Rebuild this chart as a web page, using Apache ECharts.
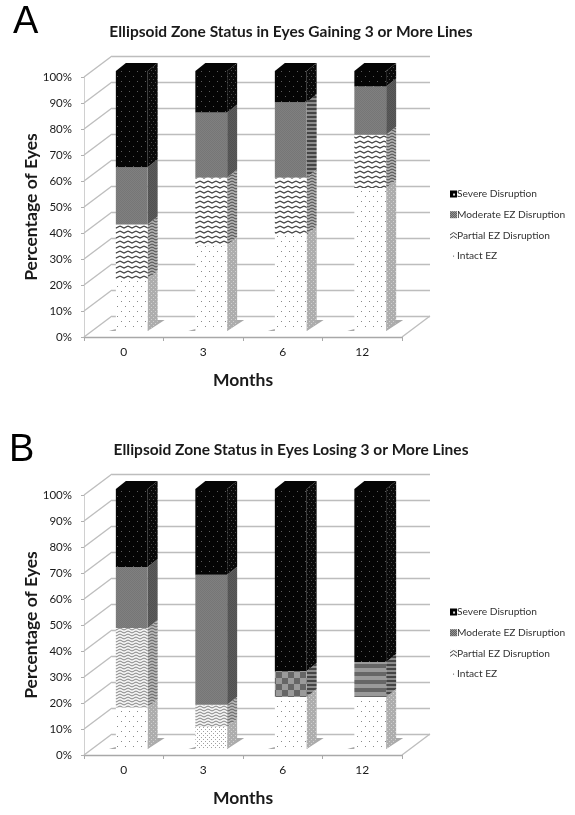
<!DOCTYPE html>
<html>
<head>
<meta charset="utf-8">
<script src="https://cdn.jsdelivr.net/npm/echarts@6/dist/echarts.min.js"></script>
<style>html,body{margin:0;padding:0;background:#fff}#c{width:575px;height:815px}</style>
</head>
<body>
<div id="c"></div>
<script>
const months = ['0', '3', '6', '12'];
const tickValues = [0, 10, 20, 30, 40, 50, 60, 70, 80, 90, 100];
const seriesNames = ['Intact EZ', 'Partial EZ Disruption', 'Moderate EZ Disruption', 'Severe Disruption'];
const legendOrder = ['Severe Disruption', 'Moderate EZ Disruption', 'Partial EZ Disruption', 'Intact EZ'];

const gainIntact = [20, 33, 37, 55];
const gainPartial = [21, 26, 22, 20.5];
const gainModerate = [22, 25, 29, 18.5];
const gainSevere = [37, 16, 12, 6];

const loseIntact = [16, 8.5, 20, 20];
const losePartial = [30.5, 8.5, 0, 0];
const loseModerate = [23.5, 50, 10, 13.5];
const loseSevere = [30, 33, 70, 66.5];

const titleA = 'Ellipsoid Zone Status in Eyes Gaining 3 or More Lines';
const titleB = 'Ellipsoid Zone Status in Eyes Losing 3 or More Lines';

const FONT = 'Lato';
const BAR_SHIFT = [8, -6], BAR_DEPTH = [10, -8], WALL = [28, -21];
const PANEL_TOP = [77, 495], PLOT_H = 260, PLOT_L = 84, PLOT_W = 318;

function tile(w, h, draw) {
  const cv = document.createElement('canvas');
  cv.width = w; cv.height = h;
  draw(cv.getContext('2d'));
  return { image: cv, repeat: 'repeat' };
}
function dots(bg, fg, w, h) {
  return tile(w, h, c => {
    c.fillStyle = bg; c.fillRect(0, 0, w, h);
    c.fillStyle = fg;
    c.fillRect(1, 1, 1, 1);
    c.fillRect(1 + w / 2, 1 + h / 2, 1, 1);
  });
}
function wave(bg, fg, lw, h) {
  return tile(8, h, c => {
    c.fillStyle = bg; c.fillRect(0, 0, 8, h);
    c.strokeStyle = fg; c.lineWidth = lw;
    c.beginPath();
    for (let o = -h; o <= 2 * h; o += h) {
      c.moveTo(0, o + 1); c.lineTo(4, o + 3); c.lineTo(8, o + 1);
    }
    c.stroke();
  });
}
function dither(a, b) {
  return tile(2, 2, c => {
    c.fillStyle = a; c.fillRect(0, 0, 2, 2);
    c.fillStyle = b; c.fillRect(0, 0, 1, 1); c.fillRect(1, 1, 1, 1);
  });
}
const P = {
  intact: dots('#ffffff', '#8a8a8a', 8, 10),
  intactFine: dots('#ffffff', '#a0a0a0', 4, 4),
  intactSide: dots('#adadad', '#d0d0d0', 4, 4),
  wave: wave('#ffffff', '#444444', 1.3, 5),
  waveSide: wave('#b0b0b0', '#4a4a4a', 1, 3),
  waveLight: wave('#f4f4f4', '#666666', 0.8, 3),
  waveLightSide: wave('#b8b8b8', '#555555', 0.9, 3),
  moderate: dither('#808080', '#767676'),
  moderateSide: dither('#5c5c5c', '#505050'),
  checker: tile(12, 12, c => {
    c.fillStyle = '#9a9a9a'; c.fillRect(0, 0, 12, 12);
    c.fillStyle = '#666666'; c.fillRect(0, 0, 6, 6); c.fillRect(6, 6, 6, 6);
  }),
  stripes: tile(8, 8, c => {
    c.fillStyle = '#9a9a9a'; c.fillRect(0, 0, 8, 8);
    c.fillStyle = '#666666'; c.fillRect(0, 0, 8, 4);
  }),
  stripesSide: tile(4, 4, c => {
    c.fillStyle = '#8c8c8c'; c.fillRect(0, 0, 4, 4);
    c.fillStyle = '#444444'; c.fillRect(0, 0, 4, 2);
  }),
  severe: dots('#050505', '#5c5c5c', 8, 10),
  severeSide: dots('#0a0a0a', '#4a4a4a', 4, 6),
  legendIntact: tile(7, 7, c => { c.fillStyle = '#fff'; c.fillRect(0, 0, 7, 7); c.fillStyle = '#555'; c.fillRect(3, 3, 1, 1); }),
  legendPartial: tile(7, 7, c => {
    c.fillStyle = '#fff'; c.fillRect(0, 0, 7, 7);
    c.strokeStyle = '#333'; c.lineWidth = 1; c.beginPath();
    c.moveTo(0, 3); c.lineTo(3.5, 0.5); c.lineTo(7, 3); c.moveTo(0, 6.5); c.lineTo(3.5, 4); c.lineTo(7, 6.5); c.stroke();
  }),
  legendModerate: dither('#b0b0b0', '#444444'),
  legendSevere: tile(7, 7, c => { c.fillStyle = '#000'; c.fillRect(0, 0, 7, 7); c.fillStyle = '#ddd'; c.fillRect(3, 3, 2, 2); })
};
const look = {
  'Intact EZ': { front: P.intact, side: P.intactSide, legend: P.legendIntact },
  'Partial EZ Disruption': { front: P.wave, side: P.waveSide, legend: P.legendPartial },
  'Moderate EZ Disruption': { front: P.moderate, side: P.moderateSide, legend: P.legendModerate },
  'Severe Disruption': { front: P.severe, side: P.severeSide, legend: P.legendSevere }
};
const overrides = {
  '0|Moderate EZ Disruption|2': { side: P.stripesSide },
  '1|Partial EZ Disruption|0': { front: P.waveLight, side: P.waveLightSide },
  '1|Partial EZ Disruption|1': { front: P.waveLight, side: P.waveLightSide },
  '1|Intact EZ|1': { front: P.intactFine },
  '1|Moderate EZ Disruption|2': { front: P.checker, side: P.stripesSide },
  '1|Moderate EZ Disruption|3': { front: P.stripes, side: P.stripesSide }
};

function poly(points, fill, z2) {
  return { type: 'polygon', z2: z2 || 0, shape: { points }, style: { fill, stroke: null } };
}
function barRender(panel, name, isTopSeries) {
  return (params, api) => {
    const cat = api.value(0), lo = api.value(1), hi = api.value(2);
    if (hi <= lo) return null;
    const key = panel + '|' + name + '|' + cat;
    const st = Object.assign({}, look[name], overrides[key] || {});
    const band = api.size([1, 0])[0], w = band * 0.4;
    const c0 = api.coord([cat, lo]), c1 = api.coord([cat, hi]);
    const x0 = c0[0] + BAR_SHIFT[0] - w / 2, x1 = x0 + w;
    const y0 = c0[1] + BAR_SHIFT[1], y1 = c1[1] + BAR_SHIFT[1];
    const dx = BAR_DEPTH[0], dy = BAR_DEPTH[1];
    const kids = [];
    if (lo === 0) {
      kids.push(poly([[x0 - 7, y0], [x1, y0], [x1 + dx + 7, y0 + dy - 3], [x1 + dx, y0 + dy - 3], [x0, y0 - 2]], '#a9a9a9'));
    }
    kids.push(poly([[x1, y0], [x1 + dx, y0 + dy], [x1 + dx, y1 + dy], [x1, y1]], st.side, 1));
    kids.push(poly([[x0, y0], [x1, y0], [x1, y1], [x0, y1]], st.front, 2));
    if (isTopSeries) {
      kids.push(poly([[x0, y1], [x1, y1], [x1 + dx, y1 + dy], [x0 + dx, y1 + dy]], '#050505', 3));
    }
    return { type: 'group', children: kids };
  };
}
function wallRender() {
  return (params, api) => {
    const v = api.value(0);
    const y = api.coord([0, v])[1], x = params.coordSys.x;
    return {
      type: 'line',
      shape: { x1: x, y1: y, x2: x + WALL[0], y2: y + WALL[1] },
      style: { stroke: '#bdbdbd', lineWidth: 1.3 }
    };
  };
}
function floorRender() {
  return (params, api) => {
    const y = api.coord([0, 0])[1], x = params.coordSys.x + params.coordSys.width;
    return {
      type: 'line',
      shape: { x1: x, y1: y, x2: x + WALL[0], y2: y + WALL[1] },
      style: { stroke: '#bdbdbd', lineWidth: 1.3 }
    };
  };
}

const panels = [
  [gainIntact, gainPartial, gainModerate, gainSevere],
  [loseIntact, losePartial, loseModerate, loseSevere]
];
const grid = [], xAxis = [], yAxis = [], series = [], legend = [], title = [];
const letters = ['A', 'B'], heads = [titleA, titleB];
const letterPos = [[8, -1], [4, 427]];

panels.forEach((segs, p) => {
  const top = PANEL_TOP[p];
  const gFront = grid.length;
  grid.push({ left: PLOT_L, top, width: PLOT_W, height: PLOT_H });
  const gBack = grid.length;
  grid.push({ left: PLOT_L + WALL[0], top: top + WALL[1], width: PLOT_W, height: PLOT_H });

  xAxis.push({
    gridIndex: gFront, type: 'category', data: months, name: 'Months',
    nameLocation: 'middle', nameGap: 43, nameMoveOverlap: false,
    nameTextStyle: { fontFamily: FONT, fontWeight: 'bold', fontSize: 17.5, color: '#1a1a1a', verticalAlign: 'middle' },
    axisLine: { lineStyle: { color: '#a8a8a8', width: 1.3 } },
    axisTick: { show: true, length: 4, lineStyle: { color: '#a8a8a8' } },
    axisLabel: { fontFamily: FONT, fontSize: 12, color: '#1a1a1a', margin: 9 }
  });
  yAxis.push({
    gridIndex: gFront, type: 'value', min: 0, max: 100, interval: 10,
    name: 'Percentage of Eyes', nameLocation: 'middle', nameGap: 53, nameRotate: 90, nameMoveOverlap: false,
    nameTextStyle: { fontFamily: FONT, fontWeight: 'bold', fontSize: 17.5, color: '#1a1a1a', verticalAlign: 'middle' },
    axisLine: { show: true, lineStyle: { color: '#d0d0d0' } },
    axisTick: { show: true, length: 3, lineStyle: { color: '#b0b0b0' } },
    axisLabel: { formatter: '{value}%', fontFamily: FONT, fontSize: 11.5, color: '#1a1a1a', margin: 12 },
    splitLine: { show: false }
  });
  xAxis.push({ gridIndex: gBack, type: 'category', data: months, show: false });
  yAxis.push({
    gridIndex: gBack, type: 'value', min: 0, max: 100, interval: 10,
    axisLine: { show: false }, axisTick: { show: false }, axisLabel: { show: false },
    splitLine: { show: true, lineStyle: { color: '#bdbdbd', width: 1.3 } }
  });

  series.push({
    type: 'custom', coordinateSystem: 'cartesian2d', xAxisIndex: gFront, yAxisIndex: gFront,
    silent: true, clip: false, z: 1, renderItem: wallRender(),
    data: tickValues.map(v => [v]), encode: { y: 0 }
  });
  series.push({
    type: 'custom', coordinateSystem: 'cartesian2d', xAxisIndex: gFront, yAxisIndex: gFront,
    silent: true, clip: false, z: 1, renderItem: floorRender(),
    data: [[0]], encode: { y: 0 }
  });

  const sum = months.map(() => 0);
  seriesNames.forEach((name, s) => {
    const rows = months.map((m, i) => {
      const lo = sum[i];
      sum[i] += segs[s][i];
      return [i, lo, sum[i]];
    });
    series.push({
      name, type: 'custom', coordinateSystem: 'cartesian2d',
      xAxisIndex: gFront, yAxisIndex: gFront, clip: false, z: 5,
      renderItem: barRender(p, name, s === seriesNames.length - 1),
      itemStyle: { color: look[name].legend },
      encode: { x: 0, y: [1, 2] },
      data: rows
    });
  });

  legend.push({
    data: legendOrder, orient: 'vertical', left: 445, top: top + 107,
    itemWidth: 7, itemHeight: 7, itemGap: 10.7, icon: 'rect', selectedMode: false,
    textStyle: { fontFamily: FONT, fontSize: 10.2, color: '#333', padding: [0, 0, 0, -5] }
  });
  title.push({
    text: heads[p], left: 286, top: top - 58, textAlign: 'center',
    textStyle: { fontFamily: FONT, fontWeight: 'bold', fontSize: 15.5, color: '#1a1a1a' }
  });
  title.push({
    text: letters[p], left: letterPos[p][0], top: letterPos[p][1],
    textStyle: { fontFamily: 'Liberation Sans', fontWeight: 'normal', fontSize: 38, color: '#000' }
  });
});

const chart = echarts.init(document.getElementById('c'), null, { renderer: 'canvas' });
chart.setOption({ animation: false, backgroundColor: '#fff', title, legend, grid, xAxis, yAxis, series });
</script>
</body>
</html>
